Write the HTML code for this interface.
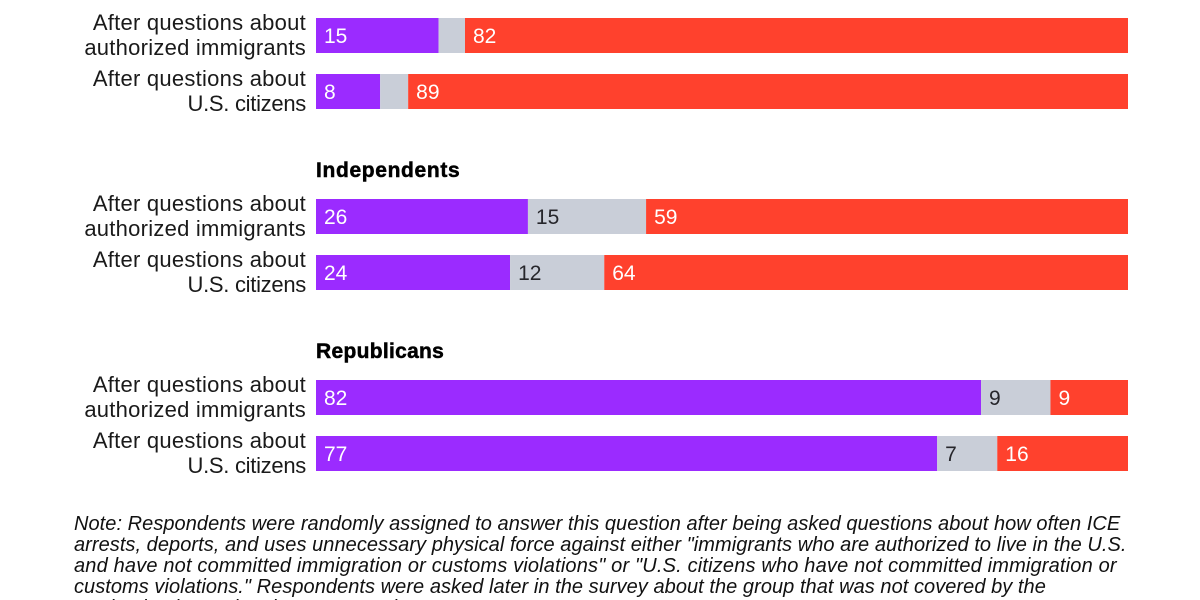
<!DOCTYPE html>
<html lang="en">
<head>
<meta charset="utf-8">
<title>Survey stacked bars by party</title>
<style>
html,body{margin:0;padding:0;background:#fff;width:1200px;height:600px;overflow:hidden}
svg{display:block}
text{font-family:"Liberation Sans",sans-serif}
</style>
</head>
<body>
<svg id="chart" width="1200" height="600" viewBox="0 0 1200 600" xmlns="http://www.w3.org/2000/svg"></svg>
<script>
const rowLines = [
  ["After questions about", "authorized immigrants"],
  ["After questions about", "U.S. citizens"],
  ["After questions about", "authorized immigrants"],
  ["After questions about", "U.S. citizens"],
  ["After questions about", "authorized immigrants"],
  ["After questions about", "U.S. citizens"]
];
const purpleValues = [15.1, 7.9, 26.1, 23.9, 81.9, 76.5];
const greyValues = [3.25, 3.45, 14.55, 11.6, 8.55, 7.4];
const redValues = [81.65, 88.65, 59.35, 64.5, 9.55, 16.1];
const purpleLabels = ["15", "8", "26", "24", "82", "77"];
const greyLabels = ["", "", "15", "12", "9", "7"];
const redLabels = ["82", "89", "59", "64", "9", "16"];
const groupTitles = ["Independents", "Republicans"];
const noteLines = [
  "Note: Respondents were randomly assigned to answer this question after being asked questions about how often ICE",
  "arrests, deports, and uses unnecessary physical force against either \"immigrants who are authorized to live in the U.S.",
  "and have not committed immigration or customs violations\" or \"U.S. citizens who have not committed immigration or",
  "customs violations.\" Respondents were asked later in the survey about the group that was not covered by the",
  "randomized question they answered."
];

const svg = document.getElementById('chart');
const NS = 'http://www.w3.org/2000/svg';
const plotLeft = 316, plotWidth = 812, barHeight = 35;
const xScale = v => v / 100 * plotWidth;
// Row position: pairs 56px apart, groups 181px apart
const rowY = i => 18 + Math.floor(i / 2) * 181 + (i % 2) * 56;
const titleY = g => rowY((g + 1) * 2) - 22;
// Per-string tracking compensates for the substitute font's different glyph widths
const titleTracking = {"Independents": 0.65, "Republicans": 0.3};
const labelTracking = {"U.S. citizens": -0.29};
const noteTracking = i => i === 2 ? 0.17 : 0.05;

function add(tag, attrs, text) {
  const el = document.createElementNS(NS, tag);
  for (const k in attrs) el.setAttribute(k, attrs[k]);
  if (text !== undefined) el.textContent = text;
  svg.appendChild(el);
  return el;
}

groupTitles.forEach((t, g) => {
  const el = add('text', {x: plotLeft, y: titleY(g), 'font-size': 21, 'letter-spacing': titleTracking[t], 'font-weight': 700, fill: '#000', stroke: '#000', 'stroke-width': 0.5}, t);
  
  
});

const segColors = ['#9b2bff', '#c9ced8', '#ff412d'];
const segText = ['#ffffff', '#26262b', '#ffffff'];
const segNames = ['purple-segment', 'grey-segment', 'red-segment'];

rowLines.forEach((lines, i) => {
  const y = rowY(i);
  lines.forEach((line, j) => {
    const tracking = line in labelTracking ? labelTracking[line] : 0.25;
    const el = add('text', {x: 306, y: y + 12 + j * 25, 'text-anchor': 'end', 'font-size': 22, 'letter-spacing': tracking, fill: '#1a1a1a'}, line);
    
    
  });
  let cum = 0;
  const vals = [purpleValues[i], greyValues[i], redValues[i]];
  const labs = [purpleLabels[i], greyLabels[i], redLabels[i]];
  vals.forEach((v, s) => {
    const x = plotLeft + xScale(cum);
    const rect = add('rect', {x: x, y: y, width: xScale(v), height: barHeight, fill: segColors[s]});
    
    
    if (labs[s]) {
      const lab = add('text', {x: x + 8, y: y + 25, 'font-size': 21, fill: segText[s]}, labs[s]);
      
      
    }
    cum += v;
  });
});

noteLines.forEach((line, i) => {
  const el = add('text', {x: 74, y: 530 + i * 21, 'font-size': 20, 'letter-spacing': noteTracking(i), 'font-style': 'italic', fill: '#111'}, line);
  
  
});
</script>
</body>
</html>
